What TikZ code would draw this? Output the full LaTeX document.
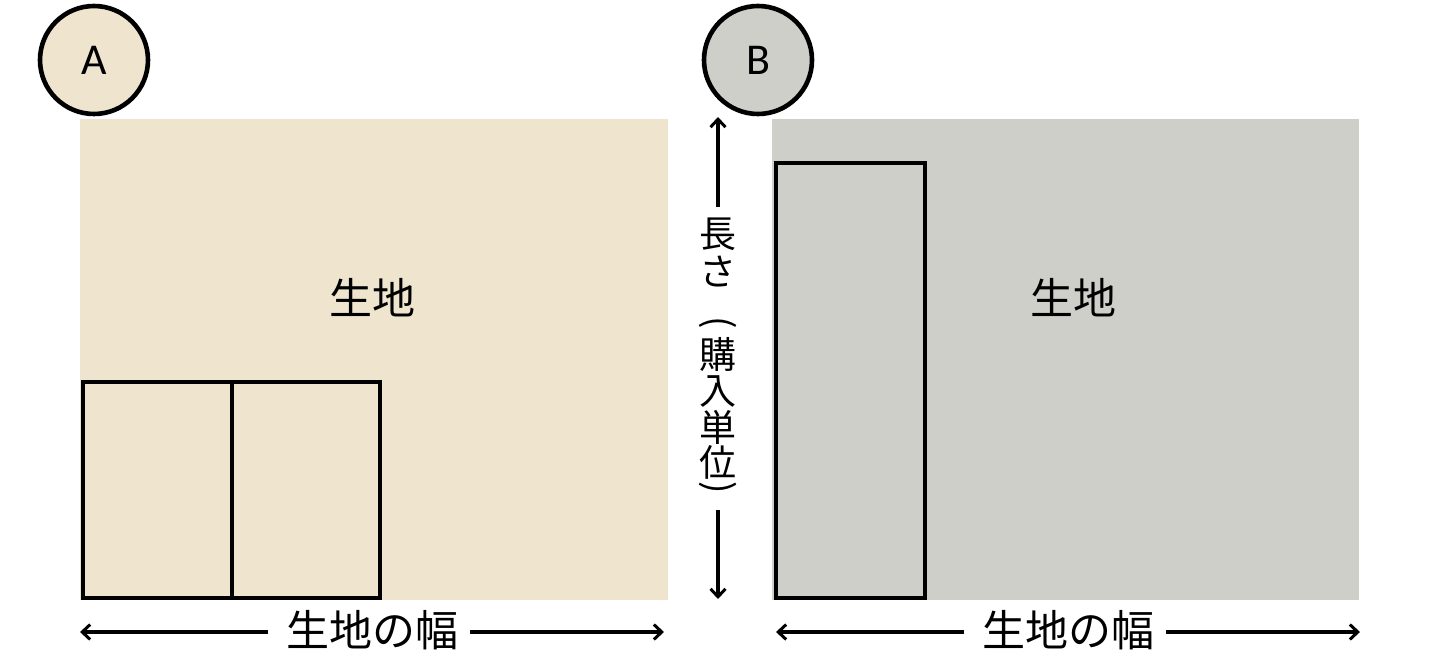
\documentclass[tikz,border=0pt]{standalone}
\usepackage{fontspec}
\newfontfamily\jp{Noto Sans CJK JP}
\newfontfamily\lat{Carlito}
\usetikzlibrary{arrows.meta}
\definecolor{beige}{HTML}{EFE4CE}
\definecolor{greyc}{HTML}{CFCFCA}
\tikzset{
  piece/.style={draw=black,line width=3.4pt},
  label/.style={circle,draw=black,line width=4.6pt,minimum size=108pt,inner sep=0pt,font=\lat\fontsize{44}{46}\selectfont},
  dimline/.style={line width=3.2pt,-{Straight Barb[length=8pt,width=15pt,line width=3pt]}},
  big/.style={font=\jp\fontsize{43}{46}\selectfont,inner sep=0pt},
  vch/.style={font=\jp\fontsize{37}{40}\selectfont,inner sep=0pt},
}
\begin{document}
\begin{tikzpicture}[x=1pt,y=-1pt]
\useasboundingbox[fill=white] (0,0) rectangle (1440,660);
% panel A
\fill[beige] (80,119) rectangle (668,600);
\node[big] (fa) at (372,298) {生地};
\draw[piece] (83,382) rectangle (232,598);
\draw[piece] (232,382) rectangle (380,598);
\node[label,fill=beige] (ca) at (94,60) {A};
% panel B
\fill[greyc] (772,119) rectangle (1359,600);
\node[big] (fb) at (1073,298) {生地};
\draw[piece] (776,163) rectangle (925,598);
\node[label,fill=greyc] (cb) at (758,60) {B};
% width arrows
\node[big] (wa) at (372,630) {生地の幅};
\coordinate (wal) at (80,632);
\coordinate (war) at (664,632);
\draw[dimline] (268,632) -- (wal);
\draw[dimline] (470,632) -- (war);
\node[big] (wb) at (1068,630) {生地の幅};
\coordinate (wbl) at (776,632);
\coordinate (wbr) at (1360,632);
\draw[dimline] (964,632) -- (wbl);
\draw[dimline] (1166,632) -- (wbr);
% length arrow
\coordinate (lt) at (718,117);
\coordinate (lb) at (718,599);
\draw[dimline] (718,207) -- (lt);
\draw[dimline] (718,510) -- (lb);
\node[vch] (v1) at (718,234) {長};
\node[vch] (v2) at (718,272) {さ};
\node[vch,rotate=-90] (v3) at (718,323) {(};
\node[vch] (v4) at (718,354) {購};
\node[vch] (v5) at (718,392) {入};
\node[vch] (v6) at (718,427) {単};
\node[vch] (v7) at (718,462) {位};
\node[vch,rotate=-90] (v8) at (718,488) {)};
\end{tikzpicture}
\end{document}
